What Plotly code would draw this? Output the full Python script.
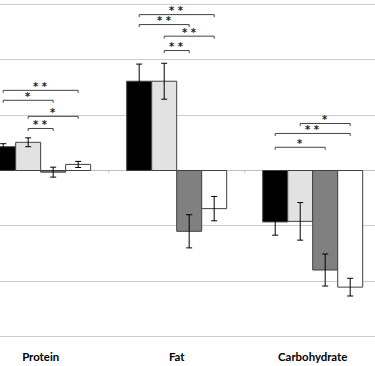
import plotly.graph_objects as go

categories = ["Protein", "Fat", "Carbohydrate"]
series_names = ["Group A", "Group B", "Group C", "Group D"]
series_colors = ["#000000", "#e2e2e2", "#808080", "#ffffff"]
values = [
    [0.43, 1.615, -0.93],
    [0.51, 1.615, -0.92],
    [-0.03, -1.10, -1.80],
    [0.11, -0.69, -2.11],
]
errors = [
    [0.055, 0.31, 0.24],
    [0.08, 0.325, 0.34],
    [0.09, 0.30, 0.29],
    [0.055, 0.22, 0.16],
]
# (category index, bar i, bar j, bracket height, label)
brackets = [
    (0, 0, 3, 1.45, "* *"),
    (0, 0, 2, 1.27, "*"),
    (0, 1, 3, 0.98, "*"),
    (0, 1, 2, 0.76, "* *"),
    (1, 0, 3, 2.82, "* *"),
    (1, 0, 2, 2.64, "* *"),
    (1, 1, 3, 2.43, "* *"),
    (1, 1, 2, 2.17, "* *"),
    (2, 1, 3, 0.85, "*"),
    (2, 0, 3, 0.67, "* *"),
    (2, 0, 2, 0.42, "*"),
]

bargap = 0.265
nser = len(series_names)
w = (1 - bargap) / nser
xr = [-0.299, 2.458]

fig = go.Figure()
for k in range(nser):
    fig.add_trace(go.Bar(
        x=list(range(len(categories))), y=values[k], name=series_names[k],
        marker=dict(color=series_colors[k], line=dict(color="#404040", width=1)),
        error_y=dict(type="data", array=errors[k], color="#000000", thickness=1, width=3),
        showlegend=False,
    ))

# small category-boundary ticks below the zero line
for b in [0.5, 1.5]:
    fig.add_trace(go.Scatter(x=[b, b], y=[0, -0.05], mode="lines",
                             line=dict(color="#c8c8c8", width=1),
                             showlegend=False, hoverinfo="skip"))

tick = 0.045
for g, i, j, h, lab in brackets:
    x1 = g + (-1.5 + i) * w
    x2 = g + (-1.5 + j) * w
    fig.add_trace(go.Scatter(
        x=[x1, x1, x2, x2], y=[h - tick, h, h, h - tick], mode="lines",
        line=dict(color="#444444", width=1), showlegend=False, hoverinfo="skip",
    ))
    fig.add_annotation(x=(x1 + x2) / 2, y=h, text="<b>" + lab + "</b>", showarrow=False,
                       yanchor="middle", yshift=4,
                       font=dict(family="DejaVu Sans", size=10, color="#222222"))

fig.update_layout(
    width=375, height=366, barmode="group", bargap=bargap, bargroupgap=0,
    margin=dict(l=0, r=0, t=3, b=28, autoexpand=False),
    plot_bgcolor="white", paper_bgcolor="white",
    xaxis=dict(range=xr, tickvals=list(range(len(categories))),
               ticktext=categories, showgrid=False, zeroline=False, showline=False,
               ticks="", ticklabelstandoff=11, automargin=False,
               tickfont=dict(family="Lato", size=11.4, color="#000000", weight="bold")),
    yaxis=dict(range=[-3.03, 3.03], tickvals=[-3, -2, -1, 0, 1, 2, 3],
               showticklabels=False, showgrid=True,
               gridcolor="#cccccc", gridwidth=1, zeroline=True, automargin=False,
               zerolinecolor="#c0c0c0", zerolinewidth=1),
)
fig.write_html("out.html", config={"displayModeBar": False},
               post_script="document.body.style.margin='0px';")
